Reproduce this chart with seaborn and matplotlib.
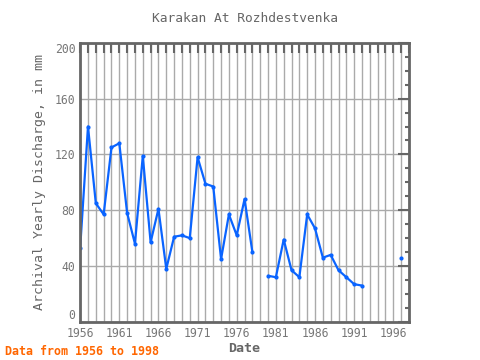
import numpy as np
import pandas as pd
import seaborn as sns
import matplotlib.pyplot as plt
from matplotlib.ticker import MultipleLocator

# yearly discharge, mm (nan = no data)
years = list(range(1956, 1999))
discharge = [53, 140, 85, 77, 125, 128, 78, 56, 119, 57,
             81, 38, 61, 62, 60, 118, 99, 97, 45, 77,
             62, 88, 50, np.nan, 33, 32, 59, 37, 32, 77,
             67, 46, 48, 37, 32, 27, 26, np.nan, np.nan, np.nan,
             np.nan, 46, np.nan]
xticks = [1956, 1961, 1966, 1971, 1976, 1981, 1986, 1991, 1996]
yticks = [0, 40, 80, 120, 160, 200]

df = pd.DataFrame({"year": years, "value": discharge})
# break the line where data is missing
df["segment"] = df["value"].isna().cumsum()
df = df.dropna()

sns.set_style("white")
plt.rcParams['font.family'] = ['DejaVu Sans Mono']

fig = plt.figure(figsize=(4.8, 3.6), dpi=100)
ax = fig.add_axes([0.167, 0.106, 0.685, 0.775])

ax.grid(True, which="major", axis="y", color="#aaaaaa", lw=1)
ax.grid(True, which="both", axis="x", color="#aaaaaa", lw=1)
ax.set_axisbelow(True)

sns.lineplot(data=df, x="year", y="value", units="segment", estimator=None,
             color="#0a64ff", lw=1.6, marker="o", markersize=3,
             markeredgewidth=0, ax=ax)

ax.set_xlim(1956, 1998)
ax.set_ylim(0, 200)
ax.set_xticks(xticks)
ax.set_yticks(yticks)
ax.xaxis.set_minor_locator(MultipleLocator(1))
ax.yaxis.set_minor_locator(MultipleLocator(10))
ax.tick_params(axis="both", which="both", direction="in", colors="#666666",
               top=True, right=True, labelsize=8.3, width=1.5)
ax.tick_params(axis="y", which="major", length=8)
ax.tick_params(axis="y", which="minor", length=3)
ax.tick_params(axis="x", which="both", length=7)
for lab in ax.get_xticklabels() + ax.get_yticklabels():
    lab.set_color("#777777")
ylabs = ax.get_yticklabels()
ylabs[0].set_va("bottom")
ylabs[-1].set_va("top")
for s in ax.spines.values():
    s.set_color("#666666")
    s.set_linewidth(2)

ax.set_title("Karakan At Rozhdestvenka", color="#666666", fontsize=9.3, pad=15)
ax.set_xlabel("Date", color="#666666", fontsize=9.6, fontweight="bold", labelpad=2)
ax.set_ylabel("Archival Yearly Discharge, in mm", color="#666666", fontsize=9.5,
              labelpad=6)
fig.text(0.01, 0.015, "Data from 1956 to 1998", color="#ff6600", fontsize=8.4,
         fontweight="bold")

fig.savefig("out.png", dpi=100)
